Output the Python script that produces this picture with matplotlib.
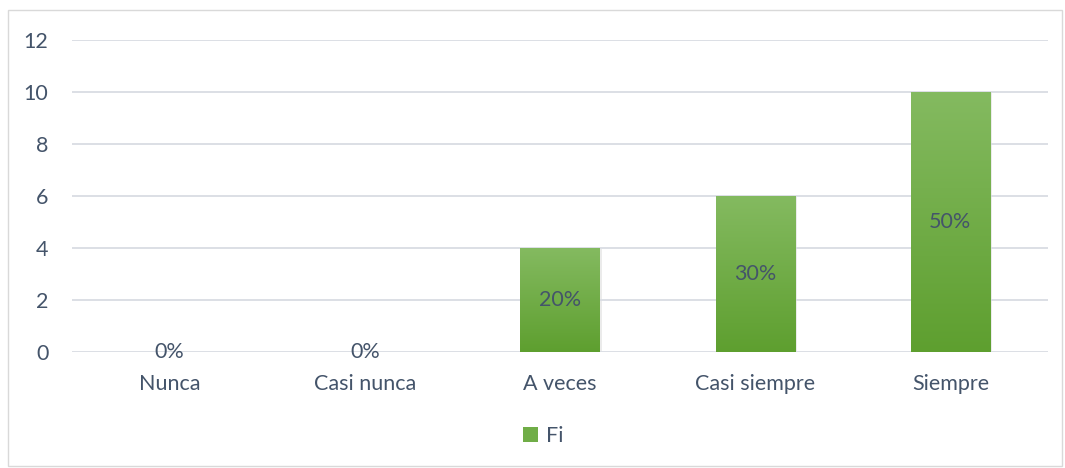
import numpy as np
import matplotlib.pyplot as plt
from matplotlib.patches import Rectangle, Patch
from matplotlib.colors import LinearSegmentedColormap

categories = ["Nunca", "Casi nunca", "A veces", "Casi siempre", "Siempre"]
fi = [0, 0, 4, 6, 10]
pct_labels = ["0%", "0%", "20%", "30%", "50%"]
yticks = [0, 2, 4, 6, 8, 10, 12]

txt_color = "#44546A"
grid_color = "#D9DCE3"
plt.rcParams['font.family'] = ['Lato', 'DejaVu Sans']
fs = 15.5

fig = plt.figure(figsize=(10.65, 4.68), dpi=100)
fig.patches.append(Rectangle((0.0075, 0.0043), 0.9897, 0.974, transform=fig.transFigure,
                             fill=False, edgecolor="#D9D9D9", linewidth=1))
ax = fig.add_axes([0.0676, 0.2479, 0.9164, 0.6666])

x = np.arange(len(categories))
bars = ax.bar(x, fi, width=0.405, color="#70AD47", zorder=2)

# vertical gradient, lighter at the top like the original
cmap = LinearSegmentedColormap.from_list("g", ["#5E9F2F", "#84BA60"])
grad = np.linspace(0, 1, 256).reshape(-1, 1)
for b in bars:
    h = b.get_height()
    if h <= 0:
        continue
    x0 = b.get_x()
    w = b.get_width()
    # soft shadow on the right
    ax.add_patch(Rectangle((x0 + 0.012, -0.05), w, h, facecolor="#000000", alpha=0.08,
                           linewidth=0, zorder=1.5))
    im = ax.imshow(grad, extent=(x0, x0 + w, 0, h), origin="lower", aspect="auto",
                   cmap=cmap, zorder=2.5)
    im.set_clip_path(b)

for i, (v, lab) in enumerate(zip(fi, pct_labels)):
    ax.text(x[i], v / 2, lab, ha="center", va="center", fontsize=fs, color=txt_color, zorder=3)

ax.set_xlim(-0.5, len(categories) - 0.5)
ax.set_ylim(0, 12)
ax.set_yticks(yticks)
ax.set_xticks(x)
ax.set_xticklabels(categories)
ax.tick_params(axis="both", length=0, labelsize=fs, labelcolor=txt_color)
ax.tick_params(axis="x", pad=16)
ax.tick_params(axis="y", pad=17)
ax.grid(axis="y", color=grid_color, linewidth=1.3, zorder=0)
for s in ax.spines.values():
    s.set_visible(False)

fig.legend(handles=[Patch(facecolor="#70AD47", label="Fi")], loc="center",
           bbox_to_anchor=(0.51, 0.068), frameon=False, fontsize=fs,
           labelcolor=txt_color, handlelength=0.7, handleheight=0.7, handletextpad=0.4)

fig.savefig("out.png", dpi=100)
